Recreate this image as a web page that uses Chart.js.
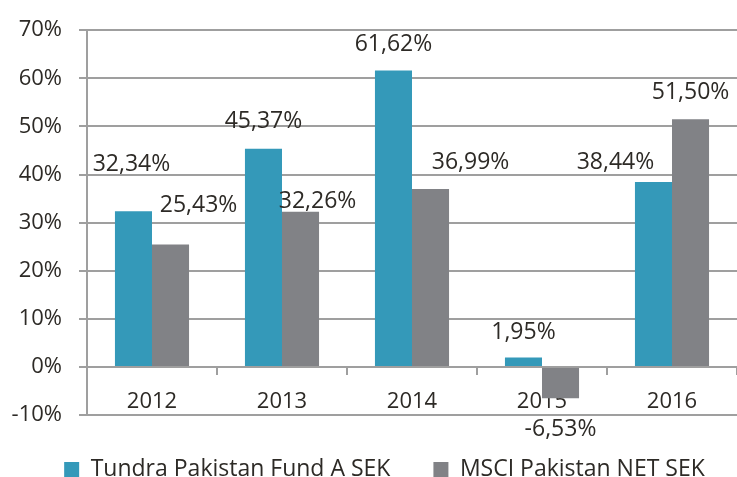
<!DOCTYPE html>
<html>
<head>
<meta charset="utf-8">
<script src="https://cdn.jsdelivr.net/npm/chart.js@4"></script>
<style>
  html, body { margin: 0; padding: 0; background: #fff; }
  #wrap { width: 737px; height: 477px; }
</style>
</head>
<body>
<div id="wrap"><canvas id="chart"></canvas></div>
<script>
const years = ["2012", "2013", "2014", "2015", "2016"];
const fundValues = [32.34, 45.37, 61.62, 1.95, 38.44];
const msciValues = [25.43, 32.26, 36.99, -6.53, 51.50];
const seriesNames = ["Tundra Pakistan Fund A SEK", "MSCI Pakistan NET SEK"];

// label nudges (px) as placed in the original
const fundLabelShift = [[-2, -47], [0, -27], [0, -26], [0, -25], [-38, -20]];
const msciLabelShift = [[28, -39], [17, -10], [40, -27], [0, 31], [0, -27]];

const textColor = "#2d2a26";
const gridColor = "#9f9f9f";
const fontFamily = "'Open Sans', sans-serif";

const valueLabels = {
  id: "valueLabels",
  afterDatasetsDraw(chart) {
    const ctx = chart.ctx;
    const shifts = [fundLabelShift, msciLabelShift];
    ctx.save();
    ctx.font = "23px " + fontFamily;
    ctx.fillStyle = textColor;
    ctx.textAlign = "center";
    ctx.textBaseline = "middle";
    chart.data.datasets.forEach((ds, i) => {
      const meta = chart.getDatasetMeta(i);
      meta.data.forEach((bar, j) => {
        const v = ds.data[j];
        const [dx, dy] = shifts[i][j];
        const txt = v.toFixed(2).replace(".", ",") + "%";
        ctx.fillText(txt, bar.x + dx, bar.y + dy);
      });
    });
    ctx.restore();
  }
};

// the legend in the original sits a bit right of centre
const legendNudge = {
  id: "legendNudge",
  afterLayout(chart) {
    chart.legend.left += 16;
    chart.legend.right += 16;
  }
};

new Chart(document.getElementById("chart"), {
  type: "bar",
  data: {
    labels: years,
    datasets: [
      {
        label: seriesNames[0],
        data: fundValues,
        backgroundColor: "#3499b9",
        barPercentage: 1,
        categoryPercentage: 0.57
      },
      {
        label: seriesNames[1],
        data: msciValues,
        backgroundColor: "#818286",
        barPercentage: 1,
        categoryPercentage: 0.57
      }
    ]
  },
  options: {
    responsive: true,
    maintainAspectRatio: false,
    animation: false,
    layout: { padding: { top: 18, right: 0, bottom: -14, left: 0 } },
    scales: {
      x: {
        position: { y: 0 },
        offset: true,
        afterFit: s => { s.height = 0; },
        grid: {
          offset: true,
          drawOnChartArea: false,
          tickLength: 8,
          color: gridColor,
          lineWidth: 2
        },
        border: { display: false },
        ticks: {
          color: textColor,
          font: { family: fontFamily, size: 22 },
          padding: 14,
          maxRotation: 0
        }
      },
      y: {
        min: -10,
        max: 70,
        afterFit: s => { s.width = 87; },
        ticks: {
          stepSize: 10,
          color: textColor,
          font: { family: fontFamily, size: 22 },
          padding: 17,
          callback: v => v + "%"
        },
        grid: {
          color: gridColor,
          lineWidth: 2,
          tickLength: 8
        },
        border: { color: gridColor, width: 2 }
      }
    },
    plugins: {
      legend: {
        position: "bottom",
        labels: {
          boxWidth: 15,
          boxHeight: 15,
          padding: 43,
          color: textColor,
          font: { family: fontFamily, size: 23 }
        }
      },
      tooltip: { enabled: false }
    }
  },
  plugins: [valueLabels, legendNudge]
});
</script>
</body>
</html>
